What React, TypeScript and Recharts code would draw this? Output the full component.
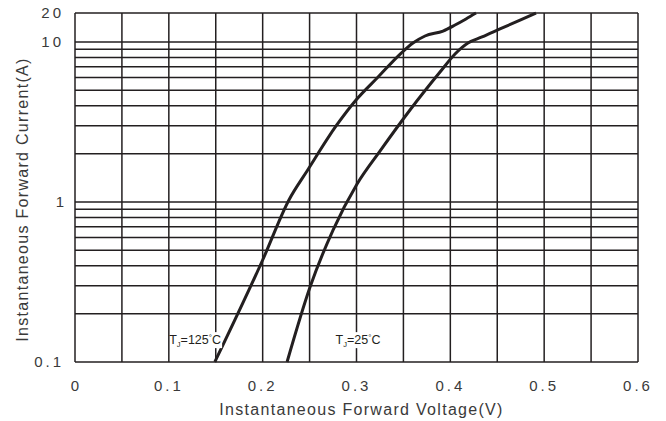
import React from 'react';
import { LineChart, Line, XAxis, YAxis, CartesianGrid, ReferenceDot } from 'recharts';

// ---- axis ticks ----
const voltageTicks = [0, 0.05, 0.1, 0.15, 0.2, 0.25, 0.3, 0.35, 0.4, 0.45, 0.5, 0.55, 0.6];
const voltageLabels = ['0', '0.1', '0.2', '0.3', '0.4', '0.5', '0.6'];
const currentGrid = [0.1, 0.2, 0.3, 0.4, 0.5, 0.6, 0.7, 0.8, 0.9, 1, 2, 3, 4, 5, 6, 7, 8, 9, 10, 20];
const currentLabels = ['0.1', '1', '10', '20'];

// ---- series: TJ = 125°C ----
const tj125Voltage = [0.149, 0.2, 0.228, 0.248, 0.279, 0.2995, 0.323, 0.3474, 0.3602, 0.373, 0.3922, 0.405, 0.4167, 0.4274];
const tj125Current = [0.1, 0.434, 1.03, 1.585, 3.03, 4.34, 6.04, 8.5, 9.86, 11.54, 13.0, 15.0, 17.35, 20];

// ---- series: TJ = 25°C ----
const tj25Voltage = [0.226, 0.2505, 0.275, 0.3006, 0.325, 0.357, 0.389, 0.405, 0.4188, 0.4338, 0.4529, 0.4743, 0.4913];
const tj25Current = [0.1, 0.294, 0.668, 1.296, 2.08, 3.76, 6.49, 8.42, 9.86, 11.27, 13.65, 16.9, 20];

// The printed chart uses log decades up to 10 A, and a compressed span from 10 A to 20 A.
const TOP_SPAN = 0.18125;
const toAxis = (i: number) => (i <= 10 ? Math.log10(i) : 1 + Math.log2(i / 10) * TOP_SPAN);

const data125 = tj125Voltage.map((v, k) => ({ v, i: tj125Current[k], y: toAxis(tj125Current[k]) }));
const data25 = tj25Voltage.map((v, k) => ({ v, i: tj25Current[k], y: toAxis(tj25Current[k]) }));

const yTicks = currentGrid.map(toAxis);
const INK = '#231f20';
const TEXT = '#3a3a3a';
const NARROW = "'Liberation Sans Narrow', 'Liberation Sans', Arial, sans-serif";
const SANS = "'Liberation Sans', Arial, sans-serif";

const fmtV = (v: number) => (Math.abs(v) < 1e-9 ? '0' : v.toFixed(1));
const fmtI = (a: number) => {
  const i = currentGrid[yTicks.findIndex((t) => Math.abs(t - a) < 1e-9)];
  if (i === undefined) return '';
  const s = i < 1 ? i.toFixed(1) : String(i);
  return currentLabels.includes(s) ? s : '';
};

const XTick = (props: any) => {
  const { x, y, payload } = props;
  const s = fmtV(payload.value);
  if (!voltageLabels.includes(s) || Math.abs(payload.value * 10 - Math.round(payload.value * 10)) > 1e-6) return null;
  const single = s.length === 1;
  return (
    <text x={x} y={y} dy={21} textAnchor="middle" fill={TEXT} fontSize={15}
      fontFamily={single ? SANS : NARROW} letterSpacing={single ? 0 : 3}>
      {s}
    </text>
  );
};

const YTick = (props: any) => {
  const { x, y, payload } = props;
  const s = fmtI(payload.value);
  if (!s) return null;
  const single = s.length === 1;
  return (
    <text x={x} y={y} dx={-3} dy="0.35em" textAnchor="end" fill={TEXT} fontSize={15}
      fontFamily={single ? SANS : NARROW} letterSpacing={single ? 0 : 3}>
      {s}
    </text>
  );
};

const CurveLabel = (temp: string) => (props: any) => {
  const { cx, cy } = props;
  return (
    <g>
      <rect x={cx - 24} y={cy - 8} width={51} height={16} fill="#fff" />
      <text x={cx} y={cy} dy="0.35em" textAnchor="middle" fill={INK} fontSize={12.5} fontFamily={SANS}>
        <tspan>T</tspan>
        <tspan fontSize={7.5} dy={3}>J</tspan>
        <tspan dy={-3}>{`=${temp}`}</tspan>
        <tspan fontSize={8} dy={-4}>°</tspan>
        <tspan dy={4}>C</tspan>
      </text>
    </g>
  );
};

const XTitle = (props: any) => {
  const { viewBox } = props;
  return (
    <text x={viewBox.x + viewBox.width / 2 + 5} y={415} textAnchor="middle" fill={TEXT}
      fontSize={16} fontFamily={SANS} letterSpacing={1.3}>
      Instantaneous Forward Voltage(V)
    </text>
  );
};

const YTitle = (props: any) => {
  const { viewBox } = props;
  const cx = 22;
  const cy = viewBox.y + viewBox.height / 2 + 12;
  return (
    <text x={cx} y={cy} dy="0.35em" textAnchor="middle" transform={`rotate(-90 ${cx} ${cy})`} fill={TEXT}
      fontSize={16} fontFamily={SANS} letterSpacing={1.3}>
      Instantaneous Forward Current(A)
    </text>
  );
};

export default function App() {
  return (
    <div style={{ position: 'absolute', left: 0, top: 0, background: '#fff' }}>
      <LineChart width={666} height={421} margin={{ top: 13, right: 28, left: 0, bottom: 0 }}>
        <CartesianGrid stroke={INK} strokeWidth={1.5} />
        <XAxis
          type="number"
          dataKey="v"
          domain={[0, 0.6]}
          ticks={voltageTicks}
          interval={0}
          height={59}
          axisLine={false}
          tickLine={false}
          tick={<XTick />}
          label={{ content: <XTitle /> }}
        />
        <YAxis
          type="number"
          domain={[toAxis(0.1), toAxis(20)]}
          ticks={yTicks}
          interval={0}
          width={75}
          axisLine={false}
          tickLine={false}
          tick={<YTick />}
          label={{ content: <YTitle /> }}
        />
        <Line data={data125} dataKey="y" type="monotone" stroke={INK} strokeWidth={3} dot={false} isAnimationActive={false} />
        <Line data={data25} dataKey="y" type="monotone" stroke={INK} strokeWidth={3} dot={false} isAnimationActive={false} />
        <ReferenceDot x={0.128} y={toAxis(0.137)} r={0} shape={CurveLabel('125')} />
        <ReferenceDot x={0.3016} y={toAxis(0.137)} r={0} shape={CurveLabel('25')} />
      </LineChart>
    </div>
  );
}
